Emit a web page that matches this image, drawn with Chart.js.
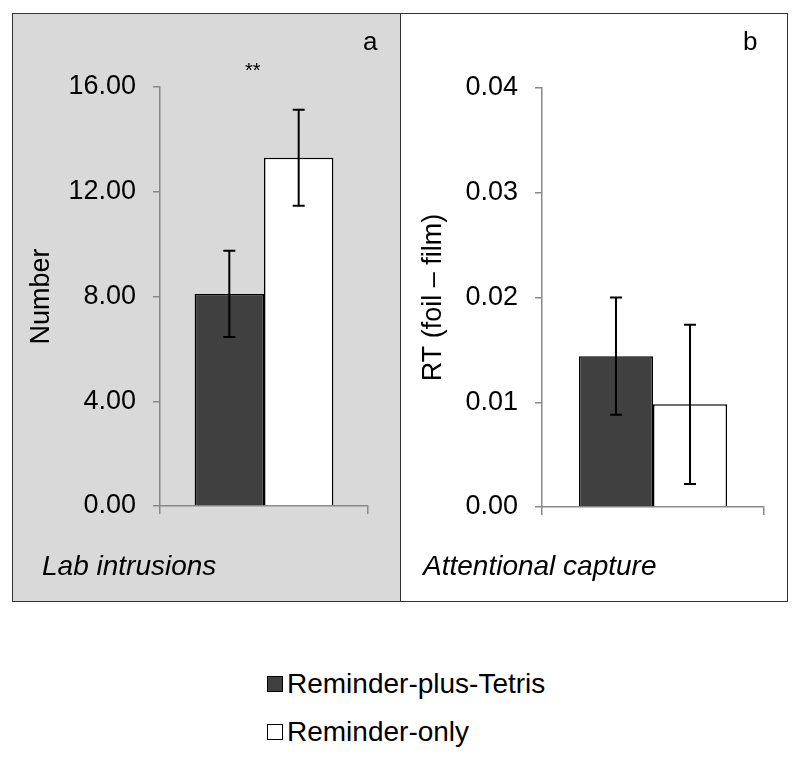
<!DOCTYPE html>
<html lang="en">
<head>
  <meta charset="UTF-8" />
  <title>Lab intrusions / Attentional capture</title>
  <script src="https://cdn.jsdelivr.net/npm/chart.js"></script>
  <style>
    body { margin: 0; background: #fff; font-family: "Liberation Sans", Arial, sans-serif; }
    #frame { position: absolute; left: 12px; top: 13px; width: 774px; height: 587px; border: 1.5px solid #333; }
    #panelA { position: absolute; left: 0; top: 0; width: 387px; height: 587px; background: #d9d9d9; border-right: 1.5px solid #333; }
    #panelB { position: absolute; left: 389px; top: 0; width: 385px; height: 587px; background: #fff; }
    canvas { position: absolute; left: 0; top: 0; }
    .txt { position: absolute; color: #000; white-space: nowrap; }
    .lbl { font-size: 28px; font-style: italic; }
    .tag { font-size: 26px; }
    .legend { position: absolute; left: 267px; font-size: 28px; display: flex; align-items: center; }
    .sw { width: 14px; height: 14px; border: 1.5px solid #000; margin-right: 4px; }
  </style>
</head>
<body>
  <div id="frame">
    <div id="panelA">
      <canvas id="chartA" width="387" height="587"></canvas>
      <div class="txt tag" style="left:350px; top:12px;">a</div>
      <div class="txt" style="left:232px; top:45px; font-size:20px;">**</div>
      <div class="txt lbl" style="left:29px; top:536px;">Lab intrusions</div>
    </div>
    <div id="panelB">
      <canvas id="chartB" width="385" height="587"></canvas>
      <div class="txt tag" style="left:341px; top:12px;">b</div>
      <div class="txt lbl" style="left:21px; top:536px;">Attentional capture</div>
    </div>
  </div>
  <div class="legend" style="top:668px;"><div class="sw" style="background:#404040;"></div>Reminder-plus-Tetris</div>
  <div class="legend" style="top:716px;"><div class="sw" style="background:#fff;"></div>Reminder-only</div>

  <script>
    const groups = ['Reminder-plus-Tetris', 'Reminder-only'];
    const colors = ['#404040', '#ffffff'];

    // panel a: lab intrusions
    const intrusionMean = [8.1, 13.3];
    const intrusionErr = [1.65, 1.83];
    const intrusionTicks = [0, 4, 8, 12, 16];

    // panel b: attentional capture
    const captureMean = [0.0144, 0.0098];
    const captureErr = [0.0056, 0.0076];
    const captureTicks = [0, 0.01, 0.02, 0.03, 0.04];

    const errorBars = {
      id: 'errorBars',
      afterDatasetsDraw(chart) {
        const ctx = chart.ctx, y = chart.scales.y;
        ctx.save();
        ctx.strokeStyle = '#000';
        ctx.lineWidth = 2;
        chart.data.datasets.forEach((ds, i) => {
          const bar = chart.getDatasetMeta(i).data[0];
          const hi = y.getPixelForValue(ds.data[0] + ds.err);
          const lo = y.getPixelForValue(ds.data[0] - ds.err);
          ctx.beginPath();
          ctx.moveTo(bar.x, hi); ctx.lineTo(bar.x, lo);
          ctx.moveTo(bar.x - 6, hi); ctx.lineTo(bar.x + 6, hi);
          ctx.moveTo(bar.x - 6, lo); ctx.lineTo(bar.x + 6, lo);
          ctx.stroke();
        });
        ctx.restore();
      }
    };

    function makeChart(id, means, errs, ticks, title, yAxisWidth, titlePad, pad) {
      return new Chart(document.getElementById(id), {
        type: 'bar',
        data: {
          labels: [''],
          datasets: groups.map((g, i) => ({
            label: g,
            data: [means[i]],
            err: errs[i],
            backgroundColor: colors[i],
            borderColor: '#000',
            borderWidth: 1.5,
            categoryPercentage: 0.667,
            barPercentage: 1.0
          }))
        },
        options: {
          responsive: false,
          animation: false,
          layout: { padding: pad },
          plugins: { legend: { display: false }, tooltip: { enabled: false } },
          scales: {
            x: {
              grid: { drawOnChartArea: false, drawTicks: true, tickLength: 8, color: '#888', lineWidth: 1.5, offset: true },
              border: { color: '#888', width: 1.5 },
              ticks: { display: false },
              afterFit: s => { s.height = 20; }
            },
            y: {
              min: ticks[0],
              max: ticks[ticks.length - 1],
              afterBuildTicks: s => { s.ticks = ticks.map(v => ({ value: v })); },
              grid: { drawOnChartArea: false, drawTicks: true, tickLength: 7, color: '#888', lineWidth: 1.5 },
              border: { color: '#888', width: 1.5 },
              ticks: {
                color: '#000', padding: 17,
                font: { family: '"Liberation Sans", Arial', size: 27 },
                callback: v => Number(v).toFixed(2)
              },
              title: {
                display: true, text: title, color: '#000',
                padding: { top: titlePad, bottom: 0 },
                font: { family: '"Liberation Sans", Arial', size: 27 }
              },
              afterFit: s => { s.width = yAxisWidth; }
            }
          }
        },
        plugins: [errorBars]
      });
    }

    makeChart('chartA', intrusionMean, intrusionErr, intrusionTicks, 'Number', 147, 12,
      { left: 0, top: 73, right: 32, bottom: 75 });
    makeChart('chartB', captureMean, captureErr, captureTicks, 'RT (foil \u2013 film)', 140, 15,
      { left: 0, top: 74, right: 23, bottom: 74 });
  </script>
</body>
</html>
